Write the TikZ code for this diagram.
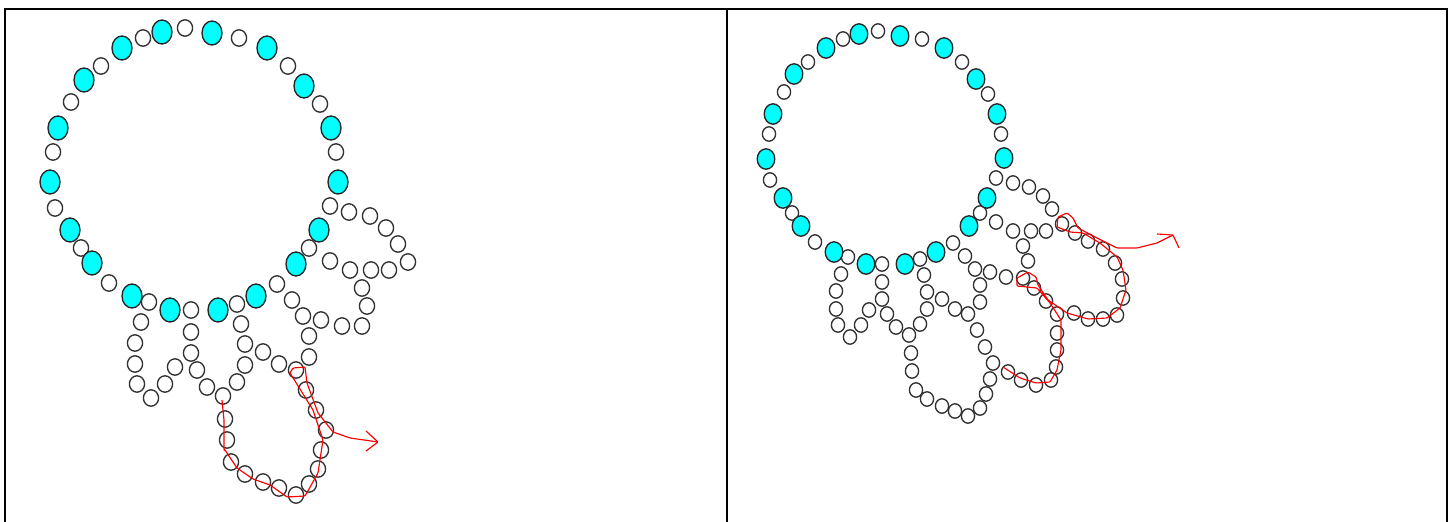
\documentclass[tikz,border=0pt]{standalone}
\definecolor{beadcyan}{RGB}{0,255,255}
\definecolor{beadred}{RGB}{255,0,0}
\tikzset{
  frameline/.style={draw=black,line width=2pt},
  bigbead/.style={draw=black!85,fill=beadcyan,line width=1.35pt},
  smallbead/.style={draw=black!80,fill=none,line width=1.35pt},
  redline/.style={draw=beadred,line width=1.15pt,line join=round,rounded corners=1pt}
}
\begin{document}
\begin{tikzpicture}[x=1pt,y=-1pt]
\useasboundingbox (0,0) rectangle (1454,522);
% frame
\draw[frameline] (5,523) -- (5,9) -- (1447,9) -- (1447,523);
\draw[frameline] (727,9) -- (727,523);
% left small beads
\foreach \x/\y in {185/28,143/38,101/66,71/102,53/152,55/208,81/248,109/283,
 239/38,288/66,320/104,336/152,330/206,349/212,370/216,386/228,398/244,408/262,309/248,
 149/302,141/322,135/343,135/364,137/384,151/398,165/384,175/367,
 191/310,191/332,191/353,197/370,207/387,223/396,237/382,245/365,245/344,241/324,237/304,
 277/284,292/300,303/316,321/320,342/326,362/326,367/306,362/288,350/270,371/270,389/270,330/261,
 309/336,309/357,263/352,279/364,296/370,306/390,316/410,326/430,321/450,318/469,309/484,296/495,
 279/488,263/482,245/474,231/462,227/440,225/419}
  \draw[smallbead] (\x,\y) ellipse (7.6 and 8.2);
% left cyan beads
\foreach \x/\y in {122/48,84/80,58/128,50/182,70/230,92/263,162/32,212/33,267/48,304/86,331/128,338/182,319/230,296/264,132/296,170/310,218/310,256/296}
  \draw[bigbead] (\x,\y) ellipse (10 and 12);
% right small beads
\foreach \x/\y in {878/31,843/39,808/62,784/92,769/134,770/180,792/213,815/242,922/39,962/62,988/94,1001/134,
 996/178,1013/183,1029/187,1043/196,1052/209,1062/224,1075/233,1088/241,1103/249,1115/263,1122/279,1123/298,1117/315,1103/319,1088/319,1074/313,
 1057/314,1046/301,1034/288,1023/278,1028/261,1023/246,1013/231,996/222,1031/231,1046/231,980/213,
 953/243,965/256,975/269,990/272,1006/277,980/285,980/302,968/314,977/330,985/347,993/363,
 1008/372,1021/380,1036/385,1051/380,1056/367,1057/350,1057/333,
 990/379,986/394,980/408,968/416,955/411,942/406,927/399,916/390,912/371,911/353,909/335,
 896/327,887/314,882/299,882/282,882/264,920/324,927/309,927/292,924/275,920/259,
 848/257,841/274,836/291,836/309,838/325,850/337,861/325,869/310,942/299,955/309}
  \draw[smallbead] (\x,\y) ellipse (6.6 and 7.2);
% right cyan beads
\foreach \x/\y in {859/34,826/48,794/74,773/114,766/159,783/198,801/226,834/252,900/36,944/48,976/79,997/114,1004/158,987/198,969/226,936/252,905/264,866/264}
  \draw[bigbead] (\x,\y) ellipse (8.8 and 10.2);
% left red stroke
\coordinate (lstart) at (222,400);
\coordinate (ltip) at (378,442);
\draw[redline] (lstart) -- (224,420) -- (224,450) -- (225,450) -- (237,468) -- (253,479) -- (270,485) -- (287,497) -- (305,496) -- (318,473) -- (323,440) -- (313,410) -- (290,373) -- (293,368) -- (305,367) -- (307,383) -- (318,413) -- (333,432) -- (350,438) -- (ltip);
\draw[redline] (366,431) -- (ltip) -- (366,451);
% right red strokes
\coordinate (rstart) at (1003,367);
\coordinate (rtip) at (1173,235);
\draw[redline] (rstart) -- (1020,378) -- (1036,383) -- (1050,382) -- (1057,370) -- (1061,350) -- (1061,320) -- (1050,303) -- (1037,288) -- (1017,286) -- (1017,278) -- (1028,272) -- (1036,277) -- (1038,285) -- (1048,300) -- (1067,313) -- (1088,319) -- (1107,318) -- (1120,308) -- (1126,290) -- (1123,270) -- (1117,257) -- (1100,243) -- (1083,233) -- (1070,232) -- (1057,227) -- (1058,217) -- (1067,213) -- (1073,218) -- (1078,228) -- (1097,238) -- (1117,248) -- (1137,248) -- (1157,243) -- (rtip);
\draw[redline] (1157,234) -- (rtip) -- (1179,248);
\end{tikzpicture}
\end{document}
